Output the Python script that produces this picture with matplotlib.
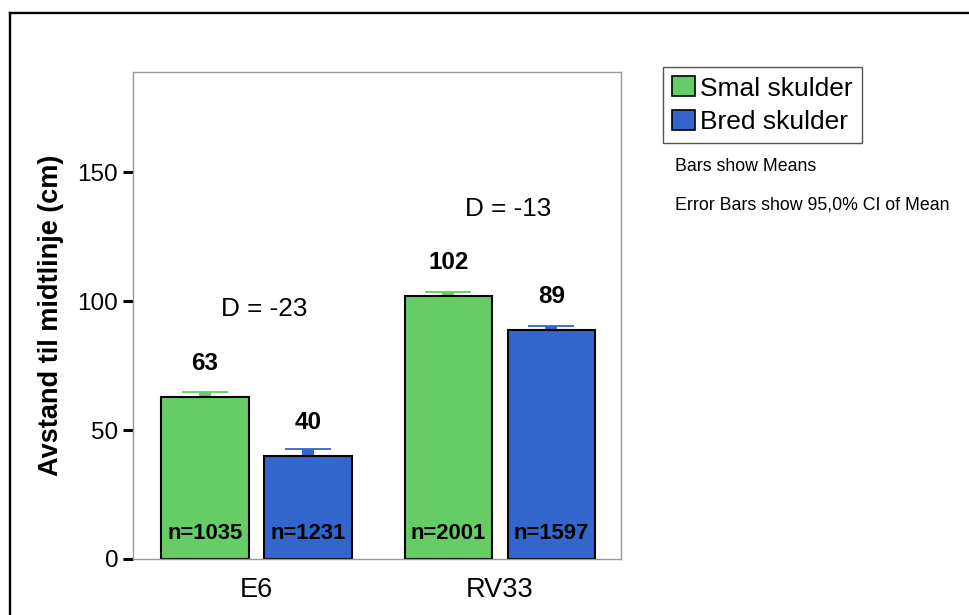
import matplotlib
matplotlib.use('Agg')
import matplotlib.pyplot as plt
from matplotlib.lines import Line2D
from matplotlib.patches import Patch
import numpy as np

plt.rcParams['font.family'] = ['Liberation Sans', 'DejaVu Sans']

roads = ['E6', 'RV33']
groups = ['Smal skulder', 'Bred skulder']
means = {
    'Smal skulder': [63, 102],
    'Bred skulder': [40, 89],
}
ci_half = {
    'Smal skulder': [1.9, 1.5],
    'Bred skulder': [2.6, 1.3],
}
counts = {
    'Smal skulder': [1035, 2001],
    'Bred skulder': [1231, 1597],
}
yticks = [0, 50, 100, 150]

bar_colors = {'Smal skulder': '#66cc66', 'Bred skulder': '#3366cc'}
cap_colors = {'Smal skulder': '#8ddb8d', 'Bred skulder': '#4a78d8'}


def draw_bars(ax, x):
    width = 0.361
    offsets = {'Smal skulder': -0.2115, 'Bred skulder': 0.2115}
    for g in groups:
        xs = x + offsets[g]
        vals = np.array(means[g])
        errs = np.array(ci_half[g])
        eb = ax.errorbar(xs, vals, yerr=errs, fmt='none', ecolor=bar_colors[g],
                         elinewidth=8.6, capsize=16.5, capthick=1.3, zorder=1)
        for cap in eb[1]:
            cap.set_color(cap_colors[g])
        ax.bar(xs, vals, width=width, color=bar_colors[g], edgecolor='black',
               linewidth=1.5, zorder=2, label=g)
        for xi, v, n in zip(xs, vals, counts[g]):
            ax.text(xi, v + 13, f'{v:g}', ha='center', va='center',
                    fontsize=17.5, fontweight='bold')
            ax.text(xi, 10, f'n={n}', ha='center', va='center',
                    fontsize=15.8, fontweight='bold')

    # difference between wide and narrow shoulder per road
    for xi, a, b in zip(x, means['Smal skulder'], means['Bred skulder']):
        ax.text(xi + 0.033, max(a, b) + 34, f'D = {b - a:g}',
                ha='center', va='center', fontsize=18.8)


def main():
    fig = plt.figure(figsize=(9.7, 6.15), dpi=100)
    ax = fig.add_axes([0.1376, 0.0911, 0.5026, 0.7919])

    x = np.arange(len(roads))
    draw_bars(ax, x)

    ax.set_xlim(-0.505, 1.497)
    ax.set_ylim(0, 189)
    ax.set_xticks(x)
    ax.set_xticklabels(roads, fontsize=19.5)
    ax.set_yticks(yticks)
    ax.set_yticklabels([str(t) for t in yticks], fontsize=17.5)
    ax.tick_params(axis='x', length=0, pad=13)
    ax.tick_params(axis='y', length=7.5, width=2.2, color='black', pad=3.5)
    ax.set_ylabel('Avstand til midtlinje (cm)', fontsize=19.5,
                  fontweight='bold', labelpad=10)
    for s in ax.spines.values():
        s.set_color('#999999')
        s.set_linewidth(1.0)

    handles = [Patch(facecolor=bar_colors[g], edgecolor='black', linewidth=1.2)
               for g in groups]
    fig.legend(handles, groups, loc='upper left',
               bbox_to_anchor=(0.6835, 0.891), borderaxespad=0,
               fontsize=19, frameon=True, fancybox=False, edgecolor='#555555',
               framealpha=1, handlelength=0.85, handleheight=0.8,
               handletextpad=0.2, labelspacing=0.35, borderpad=0.35)

    fig.text(675 / 970, 1 - 167 / 615, 'Bars show Means', fontsize=12.8,
             ha='left', va='center')
    fig.text(675 / 970, 1 - 205 / 615, 'Error Bars show 95,0% CI of Mean',
             fontsize=12.8, ha='left', va='center')

    # outer frame (only top and left edges fall inside the image)
    fy = 1 - 13 / 615
    fx = 10 / 970
    fig.add_artist(Line2D([fx, fx], [0, fy], transform=fig.transFigure,
                          color='black', linewidth=1.7))
    fig.add_artist(Line2D([fx, 1], [fy, fy], transform=fig.transFigure,
                          color='black', linewidth=1.7))

    fig.savefig('out.png', dpi=100)


if __name__ == '__main__':
    main()
